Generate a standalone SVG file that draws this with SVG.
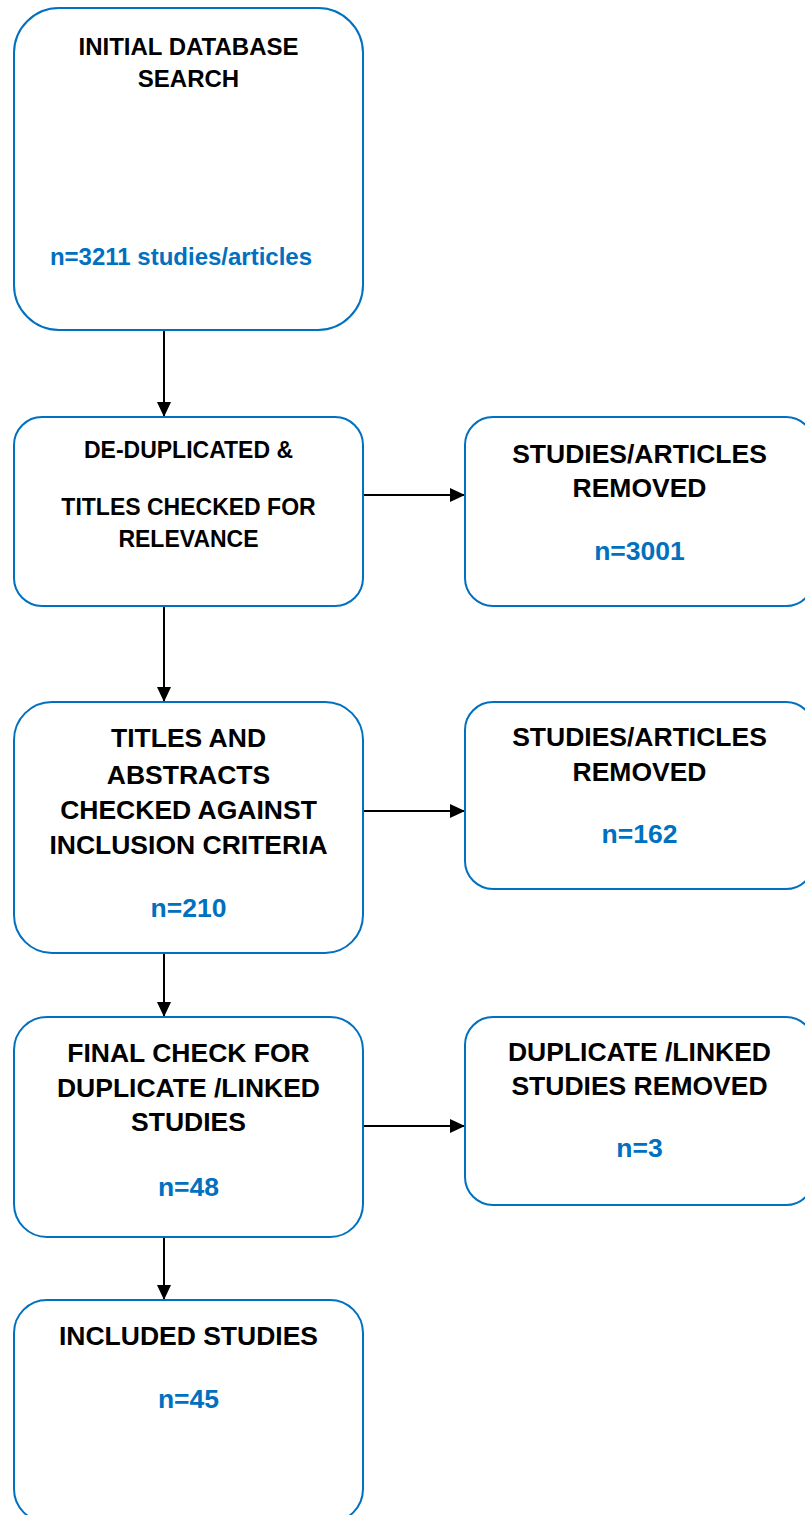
<svg xmlns="http://www.w3.org/2000/svg" width="805" height="1515" viewBox="0 0 805 1515">
<defs>
<style>
.box{fill:#ffffff;stroke:#0070c0;stroke-width:2}
.t{font-family:"Liberation Sans",Arial,sans-serif;font-weight:bold;fill:#000000;text-anchor:middle}
.n{font-family:"Liberation Sans",Arial,sans-serif;font-weight:bold;fill:#0070c0;text-anchor:middle}
.c{stroke:#000000;stroke-width:2;fill:none;marker-end:url(#ah)}
</style>
<marker id="ah" markerUnits="userSpaceOnUse" markerWidth="16" markerHeight="16" refX="15" refY="7" orient="auto">
<path d="M0,0 L15,7 L0,14 z" fill="#000000"/>
</marker>
</defs>
<rect width="805" height="1515" fill="#ffffff"/>
<g id="connectors">
<line class="c" x1="164" y1="330" x2="164" y2="417"/>
<line class="c" x1="164" y1="606" x2="164" y2="702"/>
<line class="c" x1="164" y1="953" x2="164" y2="1017"/>
<line class="c" x1="164" y1="1237" x2="164" y2="1300"/>
<line class="c" x1="363" y1="495" x2="465" y2="495"/>
<line class="c" x1="363" y1="811" x2="465" y2="811"/>
<line class="c" x1="363" y1="1126" x2="465" y2="1126"/>
</g>
<g id="initial">
<rect class="box" x="14" y="8" width="349" height="322" rx="45" ry="45"/>
<text class="t" font-size="24" x="188.5" y="55">INITIAL DATABASE</text>
<text class="t" font-size="24" x="188.5" y="87">SEARCH</text>
<text class="n" font-size="24" x="181" y="265">n=3211 studies/articles</text>
</g>
<g id="dedup">
<rect class="box" x="14" y="417" width="349" height="189" rx="28" ry="28"/>
<text class="t" font-size="23" x="188.5" y="458">DE-DUPLICATED &amp;</text>
<text class="t" font-size="23" x="188.5" y="515">TITLES CHECKED FOR</text>
<text class="t" font-size="23" x="188.5" y="547">RELEVANCE</text>
</g>
<g id="removed1">
<rect class="box" x="465" y="417" width="349" height="189" rx="28" ry="28"/>
<text class="t" font-size="26.5" x="639.5" y="463">STUDIES/ARTICLES</text>
<text class="t" font-size="26.5" x="639.5" y="497">REMOVED</text>
<text class="n" font-size="26.5" x="639.5" y="560">n=3001</text>
</g>
<g id="abstracts">
<rect class="box" x="14" y="702" width="349" height="251" rx="38" ry="38"/>
<text class="t" font-size="26.5" x="188.5" y="747">TITLES AND</text>
<text class="t" font-size="26.5" x="188.5" y="784">ABSTRACTS</text>
<text class="t" font-size="26.5" x="188.5" y="819">CHECKED AGAINST</text>
<text class="t" font-size="26.5" x="188.5" y="854">INCLUSION CRITERIA</text>
<text class="n" font-size="26.5" x="188.5" y="917">n=210</text>
</g>
<g id="removed2">
<rect class="box" x="465" y="702" width="349" height="187" rx="28" ry="28"/>
<text class="t" font-size="26.5" x="639.5" y="746">STUDIES/ARTICLES</text>
<text class="t" font-size="26.5" x="639.5" y="781">REMOVED</text>
<text class="n" font-size="26.5" x="639.5" y="843">n=162</text>
</g>
<g id="finalcheck">
<rect class="box" x="14" y="1017" width="349" height="220" rx="33" ry="33"/>
<text class="t" font-size="26.5" x="188.5" y="1062">FINAL CHECK FOR</text>
<text class="t" font-size="26.5" x="188.5" y="1097">DUPLICATE /LINKED</text>
<text class="t" font-size="26.5" x="188.5" y="1131">STUDIES</text>
<text class="n" font-size="26.5" x="188.5" y="1196">n=48</text>
</g>
<g id="removed3">
<rect class="box" x="465" y="1017" width="349" height="188" rx="28" ry="28"/>
<text class="t" font-size="26.5" x="639.5" y="1061">DUPLICATE /LINKED</text>
<text class="t" font-size="26.5" x="639.5" y="1095">STUDIES REMOVED</text>
<text class="n" font-size="26.5" x="639.5" y="1157">n=3</text>
</g>
<g id="included">
<rect class="box" x="14" y="1300" width="349" height="222" rx="33" ry="33"/>
<text class="t" font-size="26.5" x="188.5" y="1345">INCLUDED STUDIES</text>
<text class="n" font-size="26.5" x="188.5" y="1408">n=45</text>
</g>
</svg>
